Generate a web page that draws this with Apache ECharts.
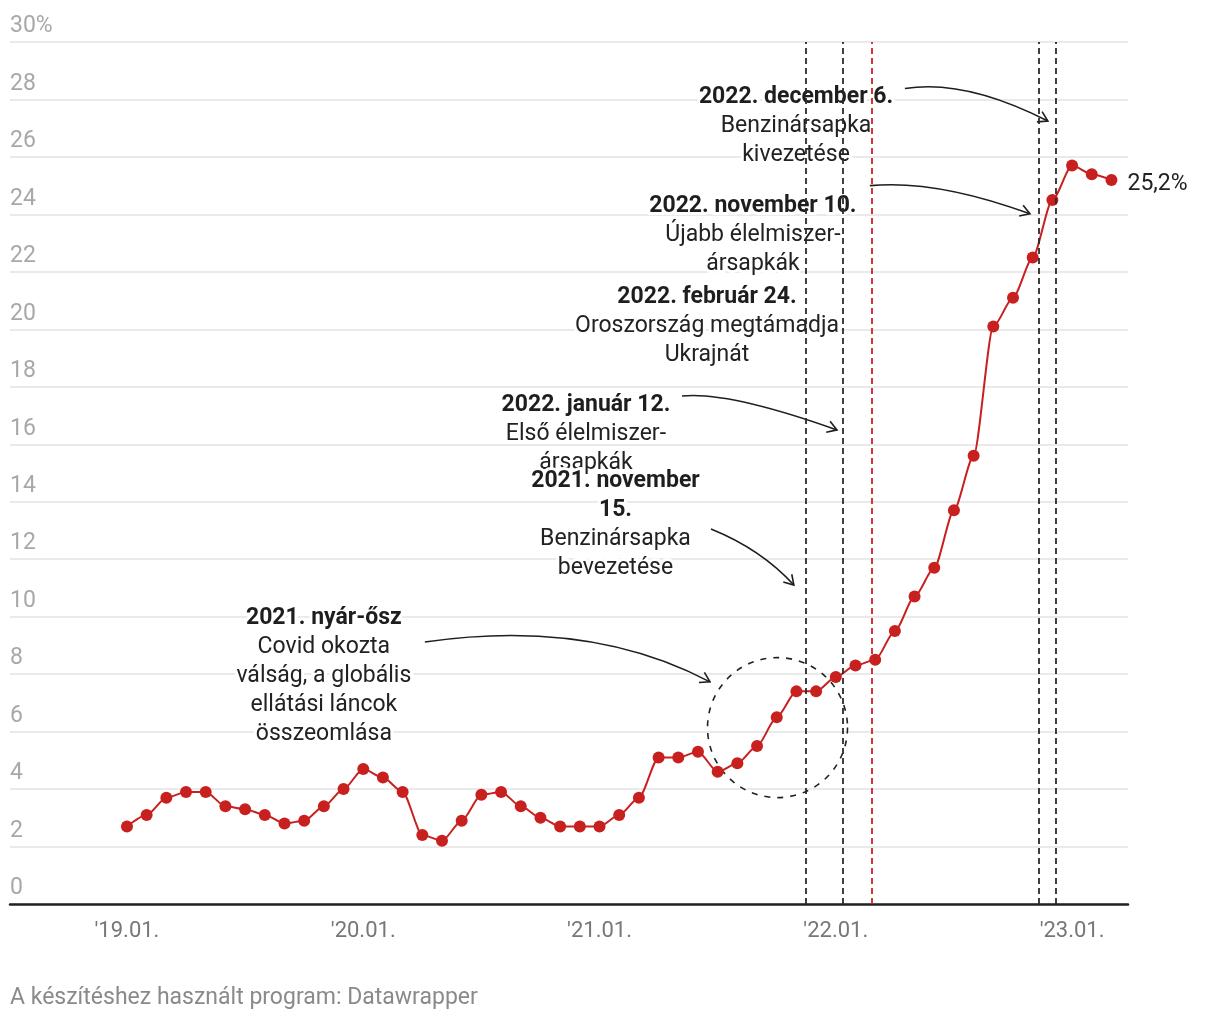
<!DOCTYPE html>
<html><head><meta charset="utf-8">
<script src="https://cdn.jsdelivr.net/npm/echarts@6/dist/echarts.min.js"></script>
<style>html,body{margin:0;padding:0;background:#fff}#c{width:1220px;height:1020px}</style>
</head><body><div id="c"></div>
<script>
// ---- data ----
const months = [];
for (let y = 2019; y <= 2023; y++) for (let m = 1; m <= 12; m++) { if (y === 2023 && m > 3) break; months.push(y + '-' + String(m).padStart(2, '0')); }
const inflation = [
  2.7, 3.1, 3.7, 3.9, 3.9, 3.4, 3.3, 3.1, 2.8, 2.9, 3.4, 4.0,
  4.7, 4.4, 3.9, 2.4, 2.2, 2.9, 3.8, 3.9, 3.4, 3.0, 2.7, 2.7,
  2.7, 3.1, 3.7, 5.1, 5.1, 5.3, 4.6, 4.9, 5.5, 6.5, 7.4, 7.4,
  7.9, 8.3, 8.5, 9.5, 10.7, 11.7, 13.7, 15.6, 20.1, 21.1, 22.5, 24.5,
  25.7, 25.4, 25.2
];
const xTickMonths = [0, 12, 24, 36, 48];
const xTickLabels = ["'19.01.", "'20.01.", "'21.01.", "'22.01.", "'23.01."];
const eventDates = ['2021-11-15', '2022-01-12', '2022-02-24', '2022-11-10', '2022-12-06'];
const eventColors = ['#2b2b2b', '#2b2b2b', '#d0202a', '#2b2b2b', '#2b2b2b'];
const lastLabel = '25,2%';
const footer = 'A készítéshez használt program: Datawrapper';

// annotation layout in data units (x: months since 2019-01, y: %)
const annotations = [
  { title: ['2021. nyár-ősz'], lines: ['Covid okozta', 'válság, a globális', 'ellátási láncok', 'összeomlása'], x: 10.0, y: 9.95,
    arrow: { from: [15.13, 9.12], ctrl: [23.51, 9.95], to: [29.61, 7.73] } },
  { title: ['2022. február 24.'], lines: ['Oroszország megtámadja', 'Ukrajnát'], x: 29.46, y: 21.12, arrow: null },
  { title: ['2022. január 12.'], lines: ['Első élelmiszer-', 'ársapkák'], x: 23.31, y: 17.36,
    arrow: { from: [28.19, 17.68], ctrl: [30.52, 17.85], to: [36.06, 16.5] } },
  { title: ['2021. november', '15.'], lines: ['Benzinársapka', 'bevezetése'], x: 24.81, y: 14.72,
    arrow: { from: [29.66, 13.05], ctrl: [32.2, 12.35], to: [33.87, 11.10] } },
  { title: ['2022. november 10.'], lines: ['Újabb élelmiszer-', 'ársapkák'], x: 31.79, y: 24.29,
    arrow: { from: [37.73, 25.0], ctrl: [41.09, 25.22], to: [45.86, 24.02] } },
  { title: ['2022. december 6.'], lines: ['Benzinársapka', 'kivezetése'], x: 33.98, y: 28.08,
    arrow: { from: [39.51, 28.38], ctrl: [42.56, 28.72], to: [46.77, 27.25] } }
];
const circleCenter = [33.04, 6.14];

function monthIndex(d) {
  const [y, m, day] = d.split('-').map(Number);
  const dim = new Date(y, m, 0).getDate();
  return (y - 2019) * 12 + (m - 1) + (day - 1) / dim;
}

const RED = '#c8201f';
const FONT = 'Roboto, "Noto Sans", sans-serif';
const chart = echarts.init(document.getElementById('c'), null, { renderer: 'canvas' });

const seriesData = inflation.map((v, i) => {
  const item = { value: [i, v] };
  if (i === inflation.length - 1) {
    item.label = { show: true, position: 'right', distance: 10, offset: [0, 4], formatter: lastLabel, fontSize: 23, color: '#222', fontFamily: FONT };
  }
  return item;
});

chart.setOption({
  animation: false,
  textStyle: { fontFamily: FONT },
  grid: { left: 10, right: 92, top: 42, bottom: 116 },
  xAxis: {
    type: 'value', min: -5.94, max: 50.84,
    axisLine: { show: true, lineStyle: { color: '#222', width: 2.5 } },
    axisTick: { show: false },
    splitLine: { show: false },
    axisLabel: {
      customValues: xTickMonths,
      formatter: v => xTickLabels[xTickMonths.indexOf(Math.round(v))] || '',
      fontSize: 22, color: '#777', margin: 16, fontFamily: FONT
    }
  },
  yAxis: {
    type: 'value', min: 0, max: 30, interval: 2,
    axisLine: { show: false }, axisTick: { show: false },
    splitLine: { lineStyle: { color: '#e3e3e3', width: 1.5 } },
    axisLabel: {
      inside: true, margin: 0, align: 'left', verticalAlign: 'bottom',
      padding: [0, 0, 4, 0], fontSize: 23, color: '#a8a8a8', fontFamily: FONT,
      formatter: v => (v === 30 ? v + '%' : String(v))
    }
  },
  series: [{
    type: 'line',
    data: seriesData,
    smooth: 0.25, smoothMonotone: 'x',
    symbol: 'circle', symbolSize: 12,
    lineStyle: { color: RED, width: 2 },
    itemStyle: { color: RED },
    z: 5,
    markLine: {
      silent: true, symbol: 'none', label: { show: false },
      z: 6,
      data: eventDates.map((d, i) => ({ xAxis: monthIndex(d), lineStyle: { color: eventColors[i], type: [6, 4], width: 1.8 } }))
    }
  }]
});

function px(p) { return chart.convertToPixel({ xAxisIndex: 0, yAxisIndex: 0 }, p); }

const graphics = [];
const LH = 29;
const FS = 23;
annotations.forEach((a) => {
  const c = px([a.x, a.y]);
  const txt = a.title.map(t => '{b|' + t + '}').concat(a.lines.map(t => '{n|' + t + '}')).join('\n');
  graphics.push({
    type: 'text', z: 1, x: c[0], y: c[1] - LH / 2,
    style: {
      text: txt, align: 'center', verticalAlign: 'top',
      fill: '#222', stroke: '#fff', lineWidth: 6,
      rich: {
        b: { fontSize: FS, fontWeight: 'bold', lineHeight: LH, fill: '#1e1e1e', stroke: '#fff', lineWidth: 6, fontFamily: FONT, align: 'center' },
        n: { fontSize: FS, lineHeight: LH, fill: '#222', stroke: '#fff', lineWidth: 6, fontFamily: FONT, align: 'center' }
      }
    }
  });
  if (a.arrow) {
    const s = px(a.arrow.from), cp = px(a.arrow.ctrl), e = px(a.arrow.to);
    graphics.push({
      type: 'bezierCurve', z: 2,
      shape: { x1: s[0], y1: s[1], x2: e[0], y2: e[1], cpx1: cp[0], cpy1: cp[1] },
      style: { stroke: '#1e1e1e', lineWidth: 1.6, fill: null }
    });
    const ang = Math.atan2(e[1] - cp[1], e[0] - cp[0]);
    const L = 11, h = 0.55;
    graphics.push({
      type: 'polyline', z: 2,
      shape: { points: [
        [e[0] - L * Math.cos(ang - h), e[1] - L * Math.sin(ang - h)],
        [e[0], e[1]],
        [e[0] - L * Math.cos(ang + h), e[1] - L * Math.sin(ang + h)]
      ] },
      style: { stroke: '#1e1e1e', lineWidth: 1.6, fill: null }
    });
  }
});
const cc = px(circleCenter);
graphics.push({
  type: 'circle', z: 2,
  shape: { cx: cc[0], cy: cc[1], r: 70 },
  style: { stroke: '#222', lineWidth: 1.6, lineDash: [6, 7], fill: null }
});
graphics.push({
  type: 'text', left: 10, top: 987,
  style: { text: footer, fontSize: 23, fill: '#8a8a8a', fontFamily: FONT }
});
chart.setOption({ graphic: graphics });
</script>
</body></html>
